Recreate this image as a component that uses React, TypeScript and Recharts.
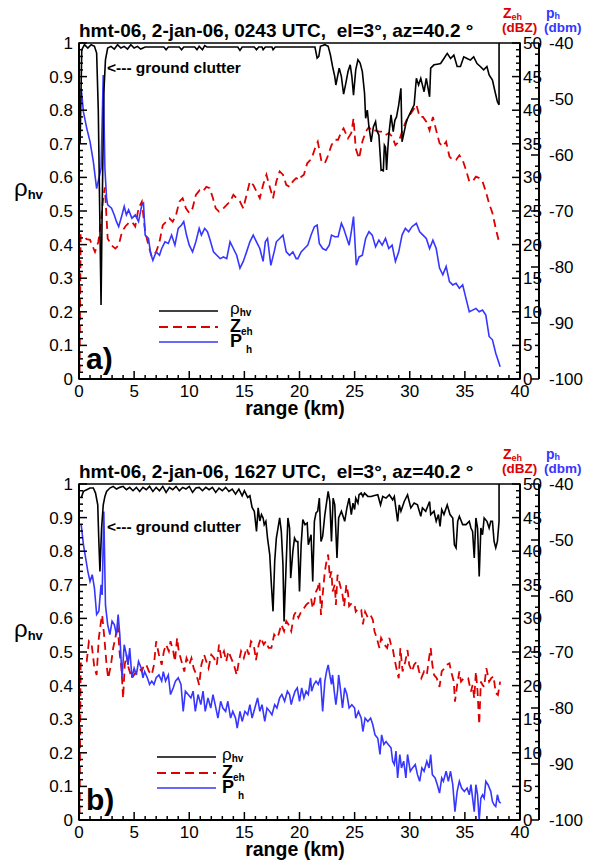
import React from 'react';
import { ComposedChart, Line, XAxis, YAxis, ReferenceArea, Legend } from 'recharts';

// range (km) / value pairs

// panel a) 0243 UTC
const rhoA: [number, number][] = [
  [0.1, 0.7], [0.25, 0.98], [0.5, 0.995], [0.8, 0.985], [1.1, 0.995], [1.4, 0.99], [1.6, 0.97],
  [1.75, 0.8], [1.9, 0.45], [2.0, 0.22], [2.1, 0.5], [2.25, 0.85], [2.4, 0.95], [2.6, 0.985],
  [2.9, 0.99], [3.2, 0.982], [3.5, 0.995], [3.8, 0.985], [4.1, 0.99], [4.4, 0.982], [4.7, 0.995],
  [5.0, 0.985], [5.3, 0.99], [5.6, 0.982], [6.0, 0.988], [7.7, 0.988], [7.9, 0.98], [8.1, 0.988],
  [9.1, 0.988], [9.3, 0.98], [9.5, 0.988], [10.5, 0.988], [10.7, 0.98], [10.9, 0.99], [11.2, 0.98],
  [11.4, 0.992], [11.6, 0.988], [14.4, 0.988], [14.6, 0.978], [14.8, 0.988], [15.9, 0.988],
  [16.1, 0.98], [16.3, 0.988], [16.6, 0.988], [16.7, 0.98], [16.9, 0.988], [17.5, 0.988],
  [17.6, 0.98], [17.8, 0.988], [21.4, 0.988], [21.6, 0.955], [21.75, 0.96], [21.9, 0.99],
  [22.3, 0.995], [22.6, 0.99], [22.8, 0.965], [23.0, 0.93], [23.2, 0.9], [23.3, 0.875],
  [23.6, 0.925], [23.8, 0.9], [24.0, 0.848], [24.2, 0.88], [24.4, 0.915], [24.6, 0.935],
  [24.75, 0.9], [24.9, 0.845], [25.1, 0.92], [25.3, 0.95], [25.5, 0.94], [25.7, 0.915],
  [25.9, 0.85], [26.0, 0.776], [26.15, 0.8], [26.3, 0.75], [26.5, 0.706], [26.7, 0.75],
  [26.9, 0.766], [27.0, 0.74], [27.2, 0.726], [27.35, 0.65], [27.4, 0.622], [27.55, 0.625],
  [27.6, 0.617], [27.7, 0.696], [27.8, 0.69], [27.9, 0.622], [28.0, 0.68], [28.1, 0.726],
  [28.3, 0.786], [28.5, 0.736], [28.65, 0.77], [28.8, 0.78], [29.0, 0.816], [29.2, 0.865],
  [29.3, 0.706], [29.5, 0.736], [29.65, 0.76], [29.8, 0.775], [30.1, 0.796], [30.4, 0.816],
  [30.6, 0.895], [30.8, 0.875], [31.0, 0.895], [31.3, 0.855], [31.5, 0.895], [31.8, 0.84],
  [31.9, 0.925], [32.2, 0.935], [32.5, 0.937], [32.8, 0.939], [33.1, 0.954], [33.4, 0.969],
  [33.7, 0.954], [34.0, 0.964], [34.3, 0.93], [34.6, 0.93], [34.9, 0.959], [35.2, 0.954],
  [35.5, 0.949], [35.8, 0.959], [36.1, 0.939], [36.4, 0.93], [36.7, 0.92], [37.0, 0.93],
  [37.2, 0.905], [37.5, 0.89], [37.7, 0.86], [37.95, 0.825], [38.1, 0.816], [38.1, 1.0],
];

const zehA: [number, number][] = [
  [0.05, 1], [0.15, 21.4], [0.4, 21.3], [0.7, 20.8], [1.0, 20.7], [1.45, 18.9], [1.75, 20.4],
  [2.0, 23.4], [2.2, 27], [2.35, 28.5], [2.6, 20.9], [2.95, 19.9], [3.3, 19.4], [3.6, 19.9],
  [3.9, 21.9], [4.2, 22.7], [4.5, 23.2], [4.8, 23.4], [5.1, 22.7], [5.4, 25.4], [5.7, 26.4],
  [6.0, 21.9], [6.3, 19.9], [6.6, 18.2], [7.0, 18.9], [7.3, 20.4], [7.6, 22.9], [7.9, 23.4],
  [8.2, 23.9], [8.5, 23.4], [8.8, 24.4], [9.1, 26.4], [9.4, 26.9], [9.7, 25.4], [10.0, 24.7],
  [10.3, 25.4], [10.6, 27.4], [10.95, 28.1], [11.25, 27.9], [11.55, 28.6], [11.85, 28.4],
  [12.15, 26.9], [12.4, 25.4], [12.7, 24.9], [13.1, 25.4], [13.4, 25.9], [13.7, 26.4],
  [14.0, 27.4], [14.3, 26.9], [14.6, 26.4], [14.9, 25.4], [15.2, 27.4], [15.5, 29.4],
  [15.8, 28.9], [16.1, 27.9], [16.4, 26.9], [16.7, 28.9], [17.0, 30.4], [17.3, 28.6],
  [17.6, 26.9], [17.9, 29.4], [18.2, 30.9], [18.5, 30.4], [18.8, 28.9], [19.1, 28.6],
  [19.4, 29.4], [19.7, 29.9], [20.0, 29.6], [20.15, 30.1], [20.4, 30.4], [20.7, 32.1],
  [21.1, 32.8], [21.4, 34.3], [21.66, 35.3], [22.0, 32.3], [22.3, 32.1], [22.6, 33.3],
  [22.9, 34.8], [23.2, 35.6], [23.5, 35.6], [23.8, 36.8], [24.0, 37.3], [24.4, 35.8],
  [24.7, 36.6], [24.9, 38.8], [25.1, 34.3], [25.4, 32.8], [25.7, 35.3], [26.0, 36.8],
  [26.3, 37.5], [26.6, 36.8], [26.9, 37.0], [27.2, 36.8], [27.5, 36.8], [27.8, 36.3],
  [28.1, 36.6], [28.4, 36.1], [28.7, 34.8], [29.0, 35.3], [29.4, 37.3], [29.7, 38.5],
  [30.0, 39.3], [30.3, 40.0], [30.6, 40.8], [30.9, 39.0], [31.2, 39.0], [31.5, 38.3],
  [31.8, 37.0], [32.1, 39.0], [32.4, 37.0], [32.7, 35.1], [33.0, 34.6], [33.3, 35.3],
  [33.6, 33.1], [33.9, 32.6], [34.2, 32.6], [34.5, 33.3], [34.8, 32.6], [35.1, 31.1],
  [35.4, 29.4], [35.7, 29.4], [36.0, 30.1], [36.3, 29.9], [36.6, 29.4], [36.9, 27.9],
  [37.2, 26.1], [37.5, 24.7], [37.8, 22.4], [38.1, 20.4],
];

const phA: [number, number][] = [
  [0.2, -48.1], [0.4, -52.3], [0.7, -55.2], [1.0, -57.6], [1.3, -61.2], [1.6, -66.0],
  [1.8, -64.2], [2.0, -62.4], [2.2, -45.7], [2.35, -62.4], [2.5, -67.7], [2.6, -68.9],
  [2.95, -69.5], [3.2, -70.7], [3.4, -71.9], [3.6, -72.8], [3.9, -70.7], [4.1, -69.2],
  [4.3, -70.7], [4.5, -69.8], [4.8, -71.3], [5.1, -70.7], [5.4, -71.9], [5.7, -68.9],
  [5.85, -68.6], [6.0, -74.3], [6.3, -74.9], [6.5, -77.6], [6.7, -78.8], [7.0, -77.3],
  [7.3, -77.9], [7.5, -76.7], [7.8, -75.5], [8.1, -75.8], [8.4, -74.3], [8.7, -76.1],
  [9.0, -73.1], [9.3, -72.5], [9.5, -71.9], [9.75, -74.3], [10.0, -76.1], [10.3, -77.3],
  [10.6, -75.5], [10.9, -73.1], [11.1, -74.3], [11.4, -73.1], [11.65, -73.7], [11.85, -74.9],
  [12.2, -77.3], [12.5, -77.9], [12.8, -78.5], [13.1, -78.2], [13.4, -78.5], [13.7, -75.5],
  [14.0, -76.7], [14.3, -77.9], [14.6, -80.2], [14.9, -79.0], [15.2, -77.3], [15.5, -75.5],
  [15.8, -74.3], [16.1, -75.5], [16.4, -76.7], [16.7, -79.0], [16.9, -75.5], [17.1, -74.9],
  [17.4, -79.7], [17.7, -77.3], [17.9, -75.5], [18.2, -74.9], [18.5, -74.3], [18.8, -77.3],
  [19.1, -77.9], [19.4, -77.3], [19.7, -78.5], [19.85, -78.5], [20.15, -77.3], [20.45, -76.7],
  [20.75, -76.1], [21.05, -74.3], [21.35, -72.8], [21.6, -72.5], [21.8, -75.8], [22.1, -76.7],
  [22.4, -77.0], [22.7, -76.1], [22.9, -74.3], [23.2, -74.6], [23.5, -74.6], [23.8, -72.2],
  [24.0, -73.1], [24.3, -74.9], [24.5, -76.1], [24.7, -73.7], [24.9, -71.0], [25.15, -79.7],
  [25.4, -78.2], [25.7, -77.9], [26.0, -74.9], [26.3, -73.7], [26.6, -74.3], [26.9, -76.4],
  [27.2, -75.2], [27.5, -76.1], [27.8, -74.9], [28.1, -76.7], [28.4, -76.1], [28.7, -79.0],
  [29.0, -77.3], [29.3, -74.3], [29.6, -73.1], [29.9, -73.7], [30.2, -72.8], [30.6, -72.2],
  [30.9, -73.7], [31.2, -74.3], [31.5, -74.9], [31.8, -76.7], [32.1, -75.2], [32.4, -76.7],
  [32.7, -80.2], [33.0, -81.4], [33.3, -79.9], [33.6, -82.6], [33.9, -83.2], [34.2, -82.9],
  [34.5, -83.8], [34.8, -83.2], [35.1, -85.6], [35.4, -88.0], [35.7, -87.7], [36.0, -87.4],
  [36.3, -88.0], [36.6, -87.7], [36.9, -88.6], [37.2, -92.4], [37.5, -93.0], [37.8, -95.4],
  [38.1, -97.2], [38.2, -97.8],
];

// panel b) 1627 UTC
const rhoB: [number, number][] = [
  [0.2, 0.958], [0.4, 0.978], [0.7, 0.983], [1.0, 0.988], [1.3, 0.988], [1.5, 0.973],
  [1.7, 0.938], [1.8, 0.829], [1.9, 0.74], [2.05, 0.869], [2.2, 0.938], [2.35, 0.963],
  [2.5, 0.978], [2.8, 0.988], [3.1, 0.993], [3.4, 0.985], [3.7, 0.99], [4.0, 0.993],
  [4.3, 0.983], [4.6, 0.99], [4.9, 0.98], [5.2, 0.99], [5.5, 0.978], [5.8, 0.99], [6.1, 0.983],
  [6.4, 0.993], [6.7, 0.978], [7.0, 0.99], [7.3, 0.98], [7.6, 0.993], [7.9, 0.975], [8.2, 0.99],
  [8.5, 0.983], [8.8, 0.993], [9.1, 0.98], [9.4, 0.99], [9.7, 0.985], [10.0, 0.993],
  [10.3, 0.975], [10.6, 0.988], [10.9, 0.99], [11.2, 0.98], [11.5, 0.99], [11.8, 0.983],
  [12.1, 0.99], [12.4, 0.975], [12.7, 0.988], [13.0, 0.98], [13.3, 0.99], [13.6, 0.978],
  [13.9, 0.985], [14.2, 0.97], [14.5, 0.985], [14.8, 0.965], [15.0, 0.98], [15.3, 0.96],
  [15.5, 0.965], [15.7, 0.93], [15.9, 0.919], [16.1, 0.859], [16.25, 0.929], [16.4, 0.89],
  [16.55, 0.909], [16.7, 0.899], [16.8, 0.879], [16.95, 0.889], [17.1, 0.839], [17.3, 0.79],
  [17.45, 0.7], [17.6, 0.621], [17.75, 0.77], [17.9, 0.839], [18.05, 0.869], [18.2, 0.899],
  [18.35, 0.859], [18.5, 0.76], [18.6, 0.591], [18.8, 0.77], [18.95, 0.899], [19.1, 0.869],
  [19.2, 0.72], [19.4, 0.8], [19.55, 0.839], [19.7, 0.829], [19.85, 0.829], [20.0, 0.68],
  [20.15, 0.819], [20.3, 0.894], [20.5, 0.879], [20.7, 0.884], [20.8, 0.819], [21.05, 0.849],
  [21.2, 0.71], [21.35, 0.889], [21.5, 0.914], [21.65, 0.919], [21.8, 0.958], [21.95, 0.829],
  [22.1, 0.844], [22.3, 0.909], [22.6, 0.978], [22.75, 0.948], [22.9, 0.829], [23.05, 0.958],
  [23.2, 0.938], [23.3, 0.859], [23.4, 0.78], [23.55, 0.899], [23.8, 0.919], [23.9, 0.909],
  [24.1, 0.889], [24.3, 0.929], [24.5, 0.958], [24.7, 0.909], [24.85, 0.943], [25.0, 0.924],
  [25.1, 0.958], [25.3, 0.943], [25.4, 0.968], [25.6, 0.973], [25.75, 0.963], [25.9, 0.973],
  [26.2, 0.963], [26.5, 0.963], [26.8, 0.966], [27.1, 0.968], [27.35, 0.938], [27.55, 0.963],
  [27.85, 0.958], [28.15, 0.968], [28.45, 0.953], [28.6, 0.963], [28.9, 0.889], [29.05, 0.938],
  [29.2, 0.919], [29.5, 0.948], [29.8, 0.968], [29.95, 0.948], [30.1, 0.929], [30.4, 0.943],
  [30.7, 0.938], [31.0, 0.904], [31.15, 0.929], [31.45, 0.919], [31.8, 0.948], [31.9, 0.909],
  [32.2, 0.919], [32.4, 0.889], [32.6, 0.909], [32.75, 0.874], [32.9, 0.924], [33.1, 0.909],
  [33.4, 0.938], [33.65, 0.909], [33.9, 0.899], [34.05, 0.819], [34.2, 0.81], [34.35, 0.889],
  [34.5, 0.904], [34.8, 0.879], [35.1, 0.879], [35.4, 0.889], [35.55, 0.869], [35.7, 0.859],
  [35.85, 0.78], [36.0, 0.899], [36.15, 0.869], [36.3, 0.725], [36.45, 0.869], [36.6, 0.849],
  [36.75, 0.899], [37.0, 0.889], [37.2, 0.869], [37.35, 0.889], [37.5, 0.889], [37.65, 0.829],
  [37.8, 0.81], [37.95, 0.829], [38.1, 0.889], [38.1, 1.0],
];

const zehB: [number, number][] = [
  [0.05, 1], [0.15, 23.3], [0.4, 23.3], [0.7, 23.6], [0.9, 26.6], [1.15, 26.1], [1.4, 22.6],
  [1.6, 21.6], [1.8, 27.1], [2.0, 29.6], [2.1, 30.5], [2.3, 27.1], [2.5, 23.1], [2.65, 21.1],
  [2.9, 23.1], [3.1, 25.6], [3.3, 27.1], [3.5, 29.1], [3.7, 24.6], [3.85, 22.6], [4.0, 18.1],
  [4.15, 23.1], [4.3, 24.6], [4.5, 22.6], [4.8, 21.1], [5.0, 21.6], [5.2, 22.1], [5.45, 22.6],
  [5.7, 22.1], [5.9, 23.1], [6.1, 23.1], [6.35, 22.1], [6.6, 21.6], [6.8, 23.1], [7.0, 26.6],
  [7.25, 24.6], [7.5, 23.1], [7.7, 25.1], [7.9, 26.1], [8.15, 25.1], [8.3, 26.6], [8.55, 25.1],
  [8.7, 23.6], [8.9, 27.1], [9.05, 25.1], [9.3, 23.6], [9.55, 22.1], [9.75, 24.1], [10.0, 23.1],
  [10.2, 24.1], [10.4, 22.6], [10.65, 21.6], [10.9, 20.1], [11.1, 23.1], [11.35, 24.6],
  [11.55, 23.6], [11.75, 22.6], [12.0, 24.6], [12.25, 24.1], [12.5, 23.1], [12.7, 26.1],
  [12.9, 24.1], [13.15, 25.1], [13.35, 23.6], [13.55, 25.1], [13.8, 24.1], [14.05, 23.1],
  [14.3, 21.6], [14.5, 23.6], [14.7, 25.1], [14.95, 24.1], [15.2, 25.6], [15.4, 24.6],
  [15.6, 26.6], [15.85, 26.1], [16.05, 23.8], [16.3, 26.1], [16.5, 27.1], [16.75, 26.1],
  [16.95, 26.6], [17.2, 25.6], [17.45, 25.6], [17.7, 27.6], [17.9, 27.1], [18.1, 27.6],
  [18.35, 29.1], [18.6, 28.1], [18.8, 29.6], [19.0, 29.1], [19.25, 28.1], [19.5, 30.5],
  [19.7, 31.0], [19.9, 30.1], [20.15, 31.0], [20.4, 31.5], [20.6, 32.0], [20.8, 32.3],
  [21.05, 33.0], [21.2, 31.5], [21.35, 32.5], [21.5, 34.0], [21.65, 34.5], [21.8, 35.5],
  [21.95, 30.5], [22.1, 33.5], [22.3, 37.0], [22.45, 38.5], [22.6, 39.5], [22.75, 36.0],
  [22.9, 37.0], [23.0, 34.0], [23.2, 35.0], [23.3, 32.0], [23.45, 36.5], [23.6, 35.5],
  [23.75, 34.5], [23.9, 33.5], [24.05, 31.8], [24.25, 35.0], [24.4, 33.8], [24.5, 31.8],
  [24.75, 32.3], [25.0, 32.0], [25.1, 31.0], [25.35, 31.5], [25.6, 31.3], [25.75, 29.1],
  [25.95, 31.0], [26.2, 30.1], [26.45, 30.5], [26.65, 29.8], [26.8, 28.1], [27.0, 27.1],
  [27.25, 25.6], [27.4, 27.1], [27.55, 26.6], [27.7, 26.1], [27.95, 25.6], [28.15, 27.1],
  [28.3, 26.1], [28.45, 25.6], [28.6, 24.1], [28.85, 22.1], [29.0, 21.1], [29.15, 25.6],
  [29.35, 22.1], [29.6, 23.6], [29.8, 25.3], [29.95, 23.1], [30.2, 22.1], [30.4, 23.1],
  [30.65, 23.6], [30.85, 22.1], [31.05, 21.1], [31.3, 22.1], [31.55, 21.6], [31.75, 24.1],
  [31.9, 25.6], [32.05, 23.1], [32.2, 21.6], [32.45, 21.1], [32.7, 19.8], [32.9, 22.1],
  [33.15, 22.6], [33.35, 23.1], [33.6, 23.3], [33.75, 22.1], [34.0, 20.6], [34.1, 17.6],
  [34.3, 20.1], [34.5, 22.1], [34.65, 20.6], [34.9, 21.1], [35.1, 21.1], [35.3, 21.1],
  [35.55, 19.1], [35.7, 20.1], [35.85, 18.1], [36.0, 22.1], [36.15, 19.1], [36.3, 14.2],
  [36.45, 20.6], [36.6, 20.1], [36.75, 19.8], [36.95, 22.6], [37.2, 20.6], [37.4, 21.1],
  [37.6, 21.4], [37.8, 18.9], [38.0, 18.6], [38.2, 20.6],
];

const phB: [number, number][] = [
  [0.2, -47.3], [0.4, -50.8], [0.6, -53.2], [0.8, -55.6], [1.0, -57.4], [1.2, -56.2],
  [1.4, -58.6], [1.6, -63.3], [1.8, -62.7], [2.0, -58.0], [2.1, -59.8], [2.25, -44.9],
  [2.4, -61.6], [2.6, -65.1], [2.8, -66.9], [3.0, -64.5], [3.2, -65.1], [3.4, -66.9],
  [3.55, -63.3], [3.7, -66.9], [3.9, -74.6], [4.1, -68.7], [4.3, -70.5], [4.45, -72.3],
  [4.6, -69.3], [4.8, -74.6], [5.0, -72.9], [5.2, -74.1], [5.4, -71.7], [5.65, -72.9],
  [5.8, -74.6], [5.95, -73.5], [6.2, -74.6], [6.4, -75.8], [6.6, -75.2], [6.8, -75.8],
  [7.0, -74.6], [7.25, -74.1], [7.5, -75.2], [7.65, -73.5], [7.85, -75.2], [8.1, -74.1],
  [8.3, -77.6], [8.55, -76.4], [8.75, -75.2], [9.0, -74.6], [9.25, -75.8], [9.45, -80.6],
  [9.65, -77.0], [9.9, -77.6], [10.15, -78.2], [10.35, -77.0], [10.55, -80.6], [10.8, -77.6],
  [11.05, -79.4], [11.25, -77.0], [11.45, -80.6], [11.7, -78.2], [11.95, -80.0], [12.15, -77.6],
  [12.35, -79.4], [12.6, -81.8], [12.85, -78.8], [13.05, -80.0], [13.3, -80.6], [13.5, -78.8],
  [13.75, -81.8], [13.95, -80.6], [14.2, -81.8], [14.35, -83.6], [14.6, -80.6], [14.8, -82.4],
  [15.05, -80.6], [15.3, -81.2], [15.5, -79.4], [15.7, -81.8], [15.95, -80.0], [16.2, -78.2],
  [16.4, -80.6], [16.6, -79.4], [16.85, -82.4], [17.05, -80.0], [17.3, -80.6], [17.5, -81.2],
  [17.75, -79.4], [17.95, -80.0], [18.2, -78.2], [18.4, -77.6], [18.65, -78.8], [18.9, -77.0],
  [19.1, -77.6], [19.25, -79.4], [19.4, -78.2], [19.6, -77.0], [19.8, -76.4], [20.0, -78.8],
  [20.2, -76.4], [20.4, -78.2], [20.6, -77.0], [20.8, -77.6], [21.0, -74.6], [21.1, -77.0],
  [21.3, -75.8], [21.5, -75.2], [21.7, -75.8], [21.9, -74.6], [22.1, -80.6], [22.3, -75.2],
  [22.45, -73.5], [22.6, -72.3], [22.75, -74.1], [22.9, -75.8], [23.0, -74.1], [23.15, -77.0],
  [23.3, -79.4], [23.45, -77.0], [23.55, -74.1], [23.7, -76.4], [23.9, -80.0], [24.1, -76.4],
  [24.3, -77.6], [24.5, -80.0], [24.75, -79.4], [25.0, -80.0], [25.1, -81.8], [25.35, -80.6],
  [25.6, -81.8], [25.75, -84.2], [25.95, -81.8], [26.2, -82.4], [26.45, -81.8], [26.65, -83.0],
  [26.85, -84.8], [27.1, -85.4], [27.3, -88.3], [27.45, -84.8], [27.65, -86.5], [27.85, -86.0],
  [28.05, -86.5], [28.3, -87.1], [28.45, -89.5], [28.6, -90.1], [28.75, -87.7], [28.9, -92.5],
  [29.1, -88.3], [29.25, -90.7], [29.45, -89.5], [29.65, -92.5], [29.8, -88.3], [30.05, -91.3],
  [30.25, -90.7], [30.5, -90.1], [30.7, -91.9], [30.9, -93.1], [31.1, -90.7], [31.3, -91.3],
  [31.55, -89.5], [31.75, -90.7], [31.9, -88.3], [32.05, -91.9], [32.3, -92.5], [32.5, -93.7],
  [32.7, -95.2], [32.9, -92.5], [33.05, -93.1], [33.3, -91.3], [33.5, -93.1], [33.7, -91.3],
  [33.9, -93.7], [34.1, -98.5], [34.3, -94.9], [34.5, -93.1], [34.7, -94.3], [34.95, -94.9],
  [35.2, -94.3], [35.4, -95.5], [35.55, -93.7], [35.7, -96.1], [35.85, -98.5], [36.0, -93.7],
  [36.15, -95.5], [36.3, -100], [36.45, -96.1], [36.6, -95.5], [36.75, -96.1], [36.9, -93.1],
  [37.1, -93.7], [37.35, -94.9], [37.5, -96.7], [37.65, -97.3], [37.8, -97.6], [37.95, -95.5],
  [38.1, -96.7], [38.25, -97.0],
];

// axis ticks: majors with four minors between
const rangeTicks = Array.from({ length: 41 }, (_, i) => i);
const rhoTicks = Array.from({ length: 51 }, (_, i) => i / 50);
const zehTicks = Array.from({ length: 51 }, (_, i) => i);
const phTicks = Array.from({ length: 31 }, (_, i) => -100 + i * 2);

const RED = '#dd0000';
const BLUE = '#3636ff';
const FONT = '"Liberation Sans", Arial, Helvetica, sans-serif';

const toPts = (a: [number, number][]) => a.map(([r, v]) => ({ r, v }));

const RangeTick = (p: any) => {
  const v = p.payload.value;
  const major = v % 5 === 0;
  return (
    <g>
      <line x1={p.x} y1={p.y} x2={p.x} y2={p.y - (major ? 8 : 4)} stroke="#000" strokeWidth={1.5} />
      {major && (
        <text x={p.x} y={p.y + 18} textAnchor="middle" fontSize={17} fill="#000">{v}</text>
      )}
    </g>
  );
};

const RhoTick = (p: any) => {
  const i = Math.round(p.payload.value * 50);
  const major = i % 5 === 0;
  return (
    <g>
      <line x1={p.x} y1={p.y} x2={p.x + (major ? 8 : 4)} y2={p.y} stroke="#000" strokeWidth={1.5} />
      {major && (
        <text x={p.x - 6} y={p.y + 6} textAnchor="end" fontSize={17} fill="#000">
          {String(i / 50)}
        </text>
      )}
    </g>
  );
};

const ZehTick = (p: any) => {
  const v = p.payload.value;
  const major = v % 5 === 0;
  return (
    <g>
      <line x1={p.x} y1={p.y} x2={p.x - (major ? 8 : 4)} y2={p.y} stroke="#000" strokeWidth={1.5} />
      {major && (
        <text x={p.x + 3} y={p.y + 6} textAnchor="start" fontSize={17} fill="#000">{v}</text>
      )}
    </g>
  );
};

const PhTick = (p: any) => {
  const v = p.payload.value;
  const major = v % 10 === 0;
  return (
    <g>
      <line x1={p.x} y1={p.y} x2={p.x - (major ? 8 : 4)} y2={p.y} stroke="#000" strokeWidth={1.5} />
      {major && (
        <text x={p.x + 10} y={p.y + 6} textAnchor="start" fontSize={17} fill="#000">{v}</text>
      )}
    </g>
  );
};

const makeLegend = (tx: number) => () => (
  <svg width={130} height={56} style={{ overflow: 'visible' }}>
    <line x1={9} y1={13} x2={68} y2={13} stroke="#000" strokeWidth={1.6} />
    <line x1={9} y1={29} x2={68} y2={29} stroke={RED} strokeWidth={1.8} strokeDasharray="9 5" />
    <line x1={9} y1={44} x2={68} y2={44} stroke={BLUE} strokeWidth={1.6} />
    <text x={tx} y={16} fontSize={17} fill="#000">
      ρ<tspan fontSize={10} fontWeight="bold" dy={2}>hv</tspan>
    </text>
    <text x={tx} y={34} fontSize={18} fontWeight="bold" fill="#000">
      Z<tspan fontSize={10} dy={3}>eh</tspan>
    </text>
    <text x={tx} y={49} fontSize={18} fontWeight="bold" fill="#000">
      P<tspan fontSize={10} dx={4} dy={6}>h</tspan>
    </text>
  </svg>
);

type PanelProps = {
  top: number;
  title: string;
  tag: string;
  rho: [number, number][];
  zeh: [number, number][];
  ph: [number, number][];
  clutterY: number;
  legendPos: { left: number; top: number };
  legendTextX: number;
};

const axisLine = { stroke: '#000', strokeWidth: 2 };

const Panel = ({ top, title, tag, rho, zeh, ph, clutterY, legendPos, legendTextX }: PanelProps) => (
  <div style={{ position: 'absolute', left: 0, top, width: 592, height: 420 }}>
    <ComposedChart width={592} height={420} margin={{ top: 43, right: 0, bottom: 0, left: 0 }}>
      <XAxis
        dataKey="r"
        type="number"
        domain={[0, 40]}
        ticks={rangeTicks}
        interval={0}
        height={41}
        tickSize={0}
        tickMargin={0}
        tickLine={false}
        axisLine={axisLine}
        tick={RangeTick}
        allowDataOverflow
      />
      <YAxis
        yAxisId="rho"
        orientation="left"
        width={79}
        domain={[0, 1]}
        ticks={rhoTicks}
        interval={0}
        tickSize={0}
        tickMargin={0}
        tickLine={false}
        axisLine={axisLine}
        tick={RhoTick}
        allowDataOverflow
      />
      {/* outer right axis: Ph (dbm) */}
      <YAxis
        yAxisId="z2"
        orientation="right"
        width={53}
        domain={[-100, -40]}
        ticks={phTicks}
        interval={0}
        tickSize={0}
        tickMargin={0}
        tickLine={false}
        axisLine={axisLine}
        tick={PhTick}
        allowDataOverflow
      />
      {/* inner right axis: Zeh (dBZ) */}
      <YAxis
        yAxisId="z1"
        orientation="right"
        width={19}
        domain={[0, 50]}
        ticks={zehTicks}
        interval={0}
        tickSize={0}
        tickMargin={0}
        tickLine={false}
        axisLine={axisLine}
        tick={ZehTick}
        allowDataOverflow
      />
      <ReferenceArea yAxisId="rho" x1={0} x2={40} y1={0} y2={1} fill="none" stroke="#000" strokeWidth={1.5} />
      <Line
        data={toPts(zeh)}
        dataKey="v"
        yAxisId="z1"
        stroke={RED}
        strokeWidth={1.8}
        strokeDasharray="8 5"
        dot={false}
        isAnimationActive={false}
        name="Zeh"
      />
      <Line
        data={toPts(ph)}
        dataKey="v"
        yAxisId="z2"
        stroke={BLUE}
        strokeWidth={1.6}
        dot={false}
        isAnimationActive={false}
        name="Ph"
      />
      <Line
        data={toPts(rho)}
        dataKey="v"
        yAxisId="rho"
        stroke="#000"
        strokeWidth={1.6}
        dot={false}
        isAnimationActive={false}
        name="rhohv"
      />
      <Legend
        layout="vertical"
        align="center"
        verticalAlign="middle"
        content={makeLegend(legendTextX)}
        wrapperStyle={{ position: 'absolute', left: legendPos.left, top: legendPos.top, width: 130, height: 56 }}
      />
    </ComposedChart>
    <svg
      width={592}
      height={420}
      style={{ position: 'absolute', left: 0, top: 0, pointerEvents: 'none' }}
    >
      <text x={79} y={37} fontSize={19} fontWeight="bold" fill="#000" style={{ whiteSpace: 'pre' }}>
        {title}
      </text>
      <text x={503} y={18} fontSize={14} fontWeight="bold" fill={RED}>
        Z<tspan fontSize={9} dy={2}>eh</tspan>
      </text>
      <text x={502} y={32} fontSize={13.5} fontWeight="bold" fill={RED}>(dBZ)</text>
      <text x={546} y={18} fontSize={14} fontWeight="bold" fill={BLUE}>
        p<tspan fontSize={9} dy={1}>h</tspan>
      </text>
      <text x={544} y={32} fontSize={13.5} fontWeight="bold" fill={BLUE}>(dbm)</text>
      <text x={14} y={196} fontSize={24} fill="#000">
        ρ<tspan fontSize={13} fontWeight="bold" dy={3}>hv</tspan>
      </text>
      <text x={107} y={clutterY} fontSize={15.5} fontWeight="bold" fill="#000">{'<--- ground clutter'}</text>
      <text x={86} y={369} fontSize={30} fontWeight="bold" fill="#000">{tag}</text>
      <text x={295} y={415} fontSize={19.5} fontWeight="bold" fill="#000" textAnchor="middle">range (km)</text>
    </svg>
  </div>
);

const App: React.FC = () => (
  <div
    style={{
      position: 'absolute',
      left: 0,
      top: 0,
      width: 592,
      height: 861,
      background: '#fff',
      fontFamily: FONT,
      overflow: 'hidden',
    }}
  >
    <Panel
      top={0}
      title="hmt-06, 2-jan-06, 0243 UTC,  el=3°, az=40.2 °"
      tag="a)"
      rho={rhoA}
      zeh={zehA}
      ph={phA}
      clutterY={73}
      legendPos={{ left: 150, top: 298 }}
      legendTextX={80}
    />
    <Panel
      top={441}
      title="hmt-06, 2-jan-06, 1627 UTC,  el=3°, az=40.2 °"
      tag="b)"
      rho={rhoB}
      zeh={zehB}
      ph={phB}
      clutterY={91}
      legendPos={{ left: 148, top: 303 }}
      legendTextX={74}
    />
  </div>
);

export default App;
